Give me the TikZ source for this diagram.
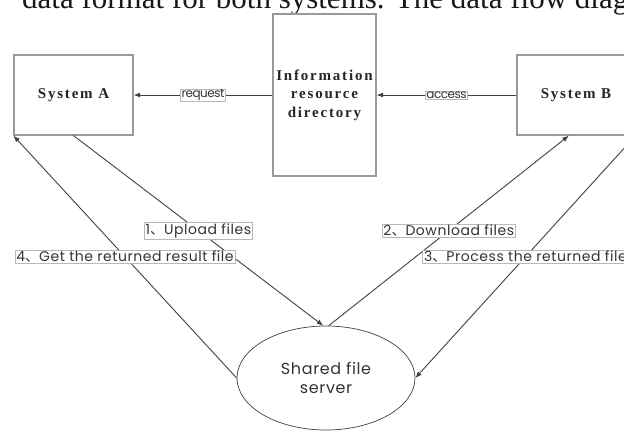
\documentclass[tikz,border=0pt]{standalone}
\usepackage{fontspec}
\setmainfont{Liberation Serif}
\newfontfamily\tagfont[LetterSpace=4]{Poppins}
\newfontfamily\smallfont[LetterSpace=-4]{Poppins}
\newfontfamily\cjkfont{Noto Sans CJK SC}
\newfontfamily\boxfont[LetterSpace=12]{Liberation Serif}
\usetikzlibrary{arrows.meta,shapes.geometric}

\definecolor{boxgray}{gray}{0.6}
\definecolor{linegray}{gray}{0.25}
\definecolor{tagborder}{gray}{0.72}

% ideographic comma used in the step labels
\newcommand{\dunhao}{{\cjkfont 、}}

\begin{document}
\begin{tikzpicture}[x=1pt,y=-1pt,
  sysbox/.style={draw=boxgray, line width=1.2pt, fill=white, inner sep=0pt,
    font=\boxfont\bfseries\fontsize{15}{18.5}\selectfont, text=black!85, align=center},
  conn/.style={draw=linegray, line width=0.9pt},
  tip/.style={-{Latex[length=6.5pt,width=5pt]}},
  tag/.style={draw=tagborder, line width=0.5pt, fill=white, inner xsep=1.5pt, inner ysep=1pt,
    font=\tagfont\fontsize{14}{16}\selectfont, text=black!80},
  smalltag/.style={tag, inner xsep=1pt, inner ysep=0.5pt, font=\smallfont\fontsize{12}{13}\selectfont}
]
\useasboundingbox (0,0) rectangle (624,432);
\clip (0,0) rectangle (624,432);

% running text line above the figure
\node[anchor=base west, inner sep=0pt, font=\fontsize{31}{31}\selectfont, text=black!90]
  (head) at (22,8) {data format for both systems. The data flow diag};

% boxes
\node[sysbox, minimum width=119pt, minimum height=80pt] (sysA) at (73.5,95) {System A};
\node[sysbox, minimum width=103pt, minimum height=162pt] (info) at (324.5,95)
  {Information\\resource\\directory};
\node[sysbox, minimum width=118pt, minimum height=80pt] (sysB) at (576,95) {System B};
\node[draw=linegray, line width=0.7pt, ellipse, minimum width=178pt, minimum height=104pt,
  inner sep=0pt, align=center, font=\tagfont\fontsize{16}{19}\selectfont, text=black!80]
  (server) at (326,378) {Shared file\\server};

% directory lookups
\draw[conn,tip] (info.west) -- node[smalltag] {request} (sysA.east);
\draw[conn,tip] (sysB.west) -- node[smalltag] {access} (info.east);

% file exchange through the shared server
\draw[conn,tip] (sysA.south) -- node[tag] {1\dunhao Upload files} (server.93);
\draw[conn,tip] (server.87) -- node[tag] {2\dunhao Download files} (sysB.-100);
\draw[conn,tip] (sysB.south east) -- node[tag] {3\dunhao Process the returned file} (server.east);
\draw[conn,tip] (server.west) -- node[tag] {4\dunhao Get the returned result file} (sysA.south west);
\end{tikzpicture}
\end{document}
